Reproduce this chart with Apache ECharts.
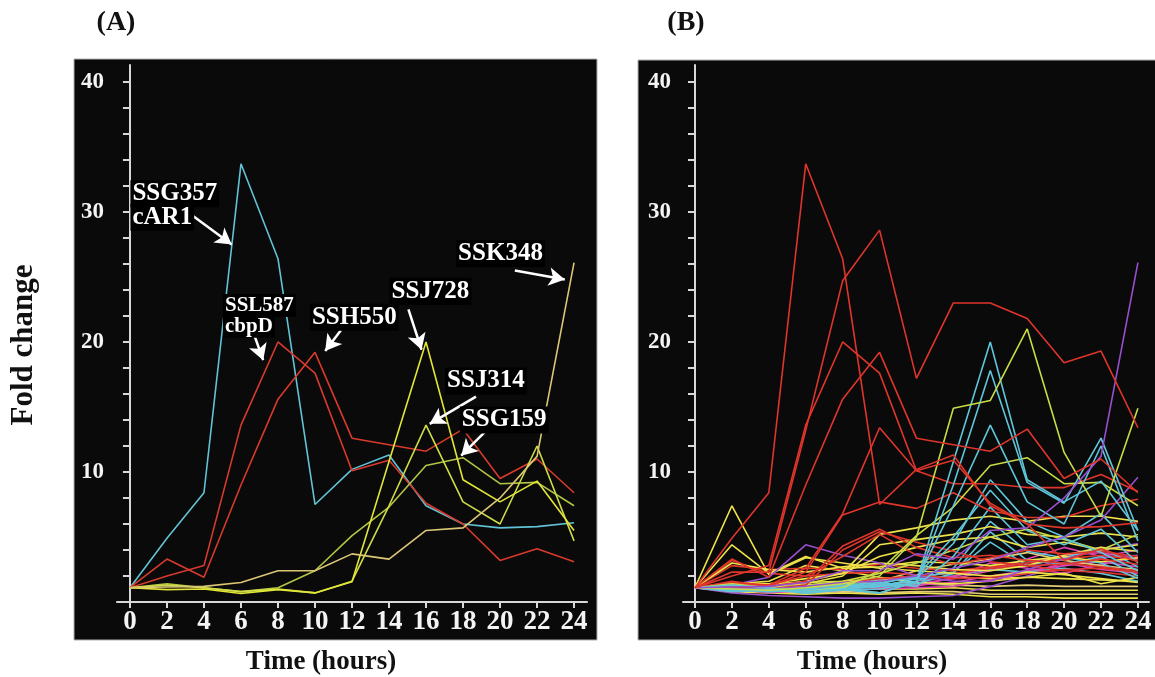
<!DOCTYPE html>
<html>
<head>
<meta charset="utf-8">
<script src="https://cdn.jsdelivr.net/npm/echarts@6/dist/echarts.min.js"></script>
<style>
html,body{margin:0;padding:0;background:#fff;}
#main{width:1155px;height:677px;}
</style>
</head>
<body>
<div id="main"></div>
<script>
// time points and ticks
var hours = [0, 2, 4, 6, 8, 10, 12, 14, 16, 18, 20, 22, 24];
var yTicks = [2, 4, 6, 8, 10, 12, 14, 16, 18, 20, 22, 24, 26, 28, 30, 32, 34, 36, 38, 40];
var yLabels = [10, 20, 30, 40];

// panel A: labelled genes
var ssg357 = [1.1, 4.9, 8.4, 33.7, 26.4, 7.5, 10.2, 11.3, 7.4, 6.0, 5.7, 5.8, 6.1];
var ssl587 = [1.1, 2.0, 2.8, 13.6, 20.0, 17.6, 10.1, 10.9, 7.6, 6.0, 3.2, 4.1, 3.1];
var ssh550 = [1.1, 3.3, 1.9, 9.0, 15.6, 19.2, 12.6, 12.1, 11.6, 13.3, 9.5, 11.0, 8.4];
var ssj728 = [1.1, 0.95, 1.0, 0.65, 0.95, 0.7, 1.55, 10.8, 20.0, 9.4, 7.7, 9.3, 5.5];
var ssj314 = [1.1, 1.3, 1.1, 0.8, 1.0, 0.7, 1.6, 7.4, 13.6, 7.7, 6.0, 12.0, 4.7];
var ssg159 = [1.1, 1.4, 1.1, 0.8, 1.1, 2.4, 5.1, 7.3, 10.5, 11.1, 9.1, 9.2, 7.4];
var ssk348 = [1.1, 1.15, 1.2, 1.5, 2.4, 2.4, 3.7, 3.3, 5.5, 5.7, 8.0, 11.2, 26.1];

// panel B: other genes of the clusters
var r2 = [1.1, 2.3, 2.3, 13.2, 24.7, 28.6, 17.2, 23.0, 23.0, 21.8, 18.4, 19.3, 13.4];
var r3 = [1.1, 1.5, 1.3, 2.6, 6.8, 13.4, 10.1, 9.1, 9.1, 8.8, 8.8, 9.8, 8.5];
var r4 = [1.1, 1.6, 1.2, 2.3, 6.7, 7.7, 7.2, 8.4, 7.0, 6.5, 6.5, 7.4, 7.9];
var r5 = [1.1, 1.4, 1.2, 1.6, 4.3, 5.6, 4.2, 3.4, 3.6, 3.2, 3.0, 2.7, 2.4];
var r6 = [1.1, 1.2, 1.0, 1.3, 4.0, 5.4, 4.6, 3.9, 3.1, 2.8, 2.9, 3.3, 2.9];
var r7 = [1.1, 1.0, 1.3, 2.0, 3.5, 5.2, 3.6, 2.9, 3.4, 4.0, 3.7, 3.9, 3.5];
var r8 = [1.1, 3.2, 2.2, 2.0, 2.2, 2.3, 2.1, 1.8, 1.9, 2.2, 2.5, 2.6, 2.3];
var r9 = [1.1, 2.8, 2.5, 2.6, 2.5, 2.9, 2.6, 2.4, 2.7, 3.0, 3.3, 3.6, 3.2];
var r10 = [1.1, 1.2, 1.0, 1.1, 1.5, 1.8, 2.0, 2.2, 2.6, 2.8, 2.4, 2.3, 2.0];
var c1 = [1.1, 0.9, 0.9, 0.8, 0.9, 1.0, 1.5, 9.0, 17.8, 9.2, 7.6, 12.6, 5.5];
var c3 = [1.1, 0.8, 0.9, 1.0, 1.0, 1.2, 1.8, 4.5, 9.4, 6.2, 5.0, 6.8, 3.8];
var c4 = [1.1, 0.9, 1.0, 0.9, 1.1, 1.4, 2.0, 5.0, 8.6, 5.5, 4.4, 5.6, 3.0];
var c5 = [1.1, 1.0, 0.8, 0.9, 1.2, 1.5, 1.2, 3.5, 7.3, 4.4, 4.9, 3.8, 2.4];
var c6 = [1.1, 0.9, 0.8, 1.0, 1.1, 1.3, 1.6, 2.6, 6.2, 3.9, 3.4, 4.2, 2.7];
var c7 = [1.1, 1.0, 0.9, 0.8, 1.0, 1.2, 1.4, 2.2, 5.4, 3.2, 2.9, 3.5, 2.0];
var c8 = [1.1, 0.9, 1.0, 1.1, 1.3, 1.5, 1.9, 2.3, 4.6, 2.8, 3.4, 3.0, 1.8];
var c9 = [1.1, 1.0, 1.0, 1.2, 1.5, 1.7, 1.8, 2.0, 2.5, 2.3, 2.6, 2.2, 1.6];
var g1 = [1.1, 1.0, 0.9, 1.1, 1.4, 2.0, 5.0, 14.9, 15.5, 21.0, 11.5, 6.6, 14.9];
var g2 = [1.1, 1.2, 1.1, 1.3, 1.6, 2.2, 3.0, 4.0, 5.0, 5.6, 4.8, 4.0, 5.2];
var y1 = [1.1, 7.4, 2.1, 3.4, 3.0, 2.6, 2.4, 2.2, 2.0, 2.3, 2.1, 1.8, 1.5];
var y2 = [1.1, 4.4, 2.2, 3.5, 2.6, 2.7, 3.1, 3.0, 2.8, 3.2, 3.5, 3.1, 3.4];
var y3 = [1.1, 3.0, 2.5, 2.3, 2.7, 3.0, 2.8, 2.5, 2.4, 2.8, 3.6, 4.2, 3.9];
var y4 = [1.1, 1.4, 1.3, 1.6, 2.2, 5.2, 5.7, 6.3, 6.6, 6.2, 6.6, 6.6, 6.2];
var y5 = [1.1, 1.3, 1.2, 1.4, 2.0, 4.4, 4.8, 5.2, 5.8, 5.2, 5.0, 5.3, 5.0];
var y6 = [1.1, 1.5, 1.4, 1.8, 2.2, 3.5, 4.2, 4.8, 5.0, 4.2, 4.6, 4.0, 4.4];
var y7 = [1.1, 0.8, 0.7, 0.6, 0.7, 0.6, 0.7, 0.6, 0.4, 0.4, 0.3, 0.3, 0.3];
var y8 = [1.1, 0.9, 0.8, 0.7, 0.8, 0.7, 0.8, 0.8, 0.6, 0.6, 0.6, 0.6, 0.6];
var y9 = [1.1, 1.0, 0.9, 0.9, 0.9, 1.0, 1.0, 1.1, 0.9, 0.9, 0.9, 0.9, 0.9];
var y10 = [1.1, 1.2, 1.1, 1.0, 1.2, 1.3, 1.4, 1.3, 1.2, 1.3, 1.2, 1.2, 1.2];
var y11 = [1.1, 1.3, 1.4, 1.5, 1.6, 1.8, 2.0, 1.9, 1.8, 1.9, 1.8, 1.7, 1.6];
var y12 = [1.1, 1.0, 1.2, 1.1, 1.4, 1.6, 2.4, 2.9, 3.3, 3.8, 3.2, 2.8, 2.5];
var y13 = [1.1, 1.4, 1.6, 2.8, 2.4, 1.9, 1.5, 1.4, 1.6, 1.9, 2.2, 1.4, 1.9];
var p2 = [1.1, 1.0, 1.0, 1.2, 1.5, 1.6, 2.0, 2.6, 3.2, 4.2, 5.0, 6.3, 9.6];
var p3 = [1.1, 1.3, 1.9, 4.4, 3.6, 3.0, 2.0, 1.6, 1.6, 2.5, 3.3, 4.0, 4.5];
var p4 = [1.1, 0.7, 0.5, 0.4, 0.3, 0.3, 0.4, 0.5, 1.2, 2.0, 2.8, 3.4, 3.6];
var m1 = [1.1, 0.9, 0.8, 1.0, 1.1, 1.3, 1.6, 2.0, 2.6, 3.0, 3.6, 3.8, 3.3];
var m2 = [1.1, 0.8, 0.9, 0.8, 1.0, 1.2, 1.4, 1.8, 2.4, 3.3, 4.2, 3.5, 4.0];
var m3 = [1.1, 1.0, 0.7, 0.9, 1.2, 1.1, 1.3, 1.5, 2.0, 2.4, 2.8, 3.1, 2.7];
var m4 = [1.1, 0.9, 1.0, 1.1, 1.0, 1.4, 1.2, 1.9, 3.0, 2.6, 2.2, 2.9, 3.4];
var m5 = [1.1, 1.0, 0.9, 0.8, 0.9, 1.0, 1.1, 1.2, 1.7, 2.2, 3.0, 2.5, 2.2];

// annotation texts of panel A (data units: left edge, vertical centre)
var labels = [
    {text: 'SSG357', at: [0.0, 31.4], size: 25},
    {text: 'cAR1', at: [0.0, 29.6], size: 25},
    {text: 'SSL587', at: [5.0, 22.8], size: 21},
    {text: 'cbpD', at: [5.0, 21.2], size: 21},
    {text: 'SSJ728', at: [14.0, 23.9], size: 25},
    {text: 'SSH550', at: [9.7, 21.9], size: 25},
    {text: 'SSJ314', at: [17.0, 17.0], size: 25},
    {text: 'SSG159', at: [17.8, 14.0], size: 25},
    {text: 'SSK348', at: [17.6, 26.8], size: 25}
];
// arrows of panel A (data units: tail, head)
var arrows = [
    {from: [3.3, 29.8], to: [5.5, 27.5]},
    {from: [6.75, 20.4], to: [7.2, 18.6]},
    {from: [11.4, 20.9], to: [10.55, 19.3]},
    {from: [15.05, 22.5], to: [15.76, 19.4]},
    {from: [18.7, 15.8], to: [16.2, 13.7]},
    {from: [19.2, 13.1], to: [17.9, 11.25]},
    {from: [20.8, 25.5], to: [23.5, 24.8]}
];

var RED = '#e0352b', CYAN = '#5fc6da', YG = '#c9db45', YEL = '#efe24a',
    TAN = '#e2cc78', PUR = '#9b4fcf', MAG = '#de45b2';

var linesA = [
    ['SSG357', ssg357, '#62c3d6'], ['SSL587', ssl587, '#d83a2c'], ['SSH550', ssh550, '#d83a2c'],
    ['SSG159', ssg159, '#b4c445'], ['SSJ314', ssj314, '#cfdc45'], ['SSJ728', ssj728, '#e2e636'],
    ['SSK348', ssk348, '#dcc776']
];
var linesB = [
    [y7, YEL], [y8, TAN], [y9, YEL], [y10, TAN], [y11, YEL], [p4, PUR], [m5, MAG], [m3, MAG],
    [c9, CYAN], [m1, MAG], [m2, MAG], [m4, MAG], [y12, TAN], [y13, YEL], [r10, RED], [c8, CYAN],
    [c7, CYAN], [c6, CYAN], [r8, RED], [r9, RED], [y3, YEL], [y2, YEL], [y1, YEL], [p3, PUR],
    [y6, YEL], [y5, YEL], [y4, YEL], [g2, YG], [r5, RED], [r6, RED], [r7, RED], [c5, CYAN],
    [c4, CYAN], [c3, CYAN], [p2, PUR], [r4, RED], [r3, RED], [ssg159, YG], [ssj314, CYAN],
    [ssj728, CYAN], [c1, CYAN], [g1, YG], [ssk348, PUR], [ssl587, RED], [ssh550, RED],
    [ssg357, RED], [r2, RED]
];

var serif = '"Liberation Serif", "Times New Roman", serif';

function pairs(vals) {
    return hours.map(function (h, i) { return [h, vals[i]]; });
}

function lineSeries(name, vals, color, idx) {
    return {
        name: name, type: 'line', xAxisIndex: idx, yAxisIndex: idx,
        data: pairs(vals), symbol: 'none', silent: true,
        lineStyle: {color: color, width: 1.6}, z: 2
    };
}

function xAxisFor(idx, min, max) {
    return {
        type: 'value', gridIndex: idx, min: min, max: max,
        axisLine: {show: true, onZero: false, lineStyle: {color: '#d8d8d8', width: 2}},
        axisTick: {show: true, customValues: hours, length: 6, lineStyle: {color: '#d8d8d8', width: 2}},
        axisLabel: {customValues: hours, color: '#f4f4f4', fontFamily: serif, fontWeight: 'bold', fontSize: 27, margin: 7},
        splitLine: {show: false}
    };
}

function yAxisFor(idx, margin) {
    return {
        type: 'value', gridIndex: idx, min: 0, max: 41.3,
        axisLine: {show: true, lineStyle: {color: '#d8d8d8', width: 2}},
        axisTick: {show: true, customValues: yTicks, length: 7, lineStyle: {color: '#d8d8d8', width: 2}},
        axisLabel: {customValues: yLabels, color: '#f4f4f4', fontFamily: serif, fontWeight: 'bold', fontSize: 23, margin: margin},
        splitLine: {show: false}
    };
}

var series = [];
linesA.forEach(function (l) { series.push(lineSeries(l[0], l[1], l[2], 0)); });
linesB.forEach(function (l, i) { series.push(lineSeries('B' + i, l[0], l[1], 1)); });

// gene names of panel A
series.push({
    name: 'labels', type: 'line', xAxisIndex: 0, yAxisIndex: 0, data: [], z: 5, silent: true,
    markPoint: {
        silent: true, animation: false,
        data: labels.map(function (n) {
            return {
                coord: n.at, symbol: 'rect', symbolSize: 1, itemStyle: {color: 'rgba(0,0,0,0)'},
                label: {
                    show: true, position: 'right', distance: 0, formatter: n.text,
                    color: '#ffffff', fontFamily: serif, fontWeight: 'bold',
                    fontSize: n.size, lineHeight: n.size, align: 'left',
                    backgroundColor: '#000000', padding: [1, 2]
                }
            };
        })
    }
});

// arrows of panel A
series.push({
    name: 'arrows', type: 'line', xAxisIndex: 0, yAxisIndex: 0, data: [], z: 6, silent: true,
    markLine: {
        silent: true, animation: false, symbolSize: [14, 16],
        label: {show: false},
        lineStyle: {color: '#ffffff', width: 2.5, type: 'solid'},
        data: arrows.map(function (a) {
            return [{coord: a.from, symbol: 'none'}, {coord: a.to, symbol: 'arrow'}];
        })
    }
});

var myChart = echarts.init(document.getElementById('main'));

var option = {
    backgroundColor: '#ffffff',
    animation: false,
    grid: [
        {left: 117, top: 65, width: 470, height: 537},
        {left: 683, top: 65, width: 466, height: 537}
    ],
    xAxis: [xAxisFor(0, -0.7, 24.7), xAxisFor(1, -0.65, 24.6)],
    yAxis: [yAxisFor(0, 13), yAxisFor(1, 12)],
    graphic: {
        elements: [
            {type: 'rect', z: -10, shape: {x: 74, y: 59, width: 523, height: 581},
                style: {fill: '#0a0a0a', stroke: '#b0b0b0', lineWidth: 1}},
            {type: 'rect', z: -10, shape: {x: 638, y: 60, width: 520, height: 580},
                style: {fill: '#0a0a0a', stroke: '#b0b0b0', lineWidth: 1}},
            {type: 'text', z: 10, style: {text: '(A)', x: 116, y: 23, fill: '#111', textAlign: 'center', textVerticalAlign: 'middle',
                font: 'bold 28px ' + serif}},
            {type: 'text', z: 10, style: {text: '(B)', x: 686, y: 23, fill: '#111', textAlign: 'center', textVerticalAlign: 'middle',
                font: 'bold 28px ' + serif}},
            {type: 'text', z: 10, x: 24, y: 345, rotation: Math.PI / 2,
                style: {text: 'Fold change', x: 0, y: 0, fill: '#111', textAlign: 'center', textVerticalAlign: 'middle',
                    font: 'bold 31px ' + serif}},
            {type: 'text', z: 10, style: {text: 'Time (hours)', x: 321, y: 662, fill: '#111', textAlign: 'center', textVerticalAlign: 'middle',
                font: 'bold 27px ' + serif}},
            {type: 'text', z: 10, style: {text: 'Time (hours)', x: 872, y: 662, fill: '#111', textAlign: 'center', textVerticalAlign: 'middle',
                font: 'bold 27px ' + serif}}
        ]
    },
    series: series
};

myChart.setOption(option);
</script>
</body>
</html>
